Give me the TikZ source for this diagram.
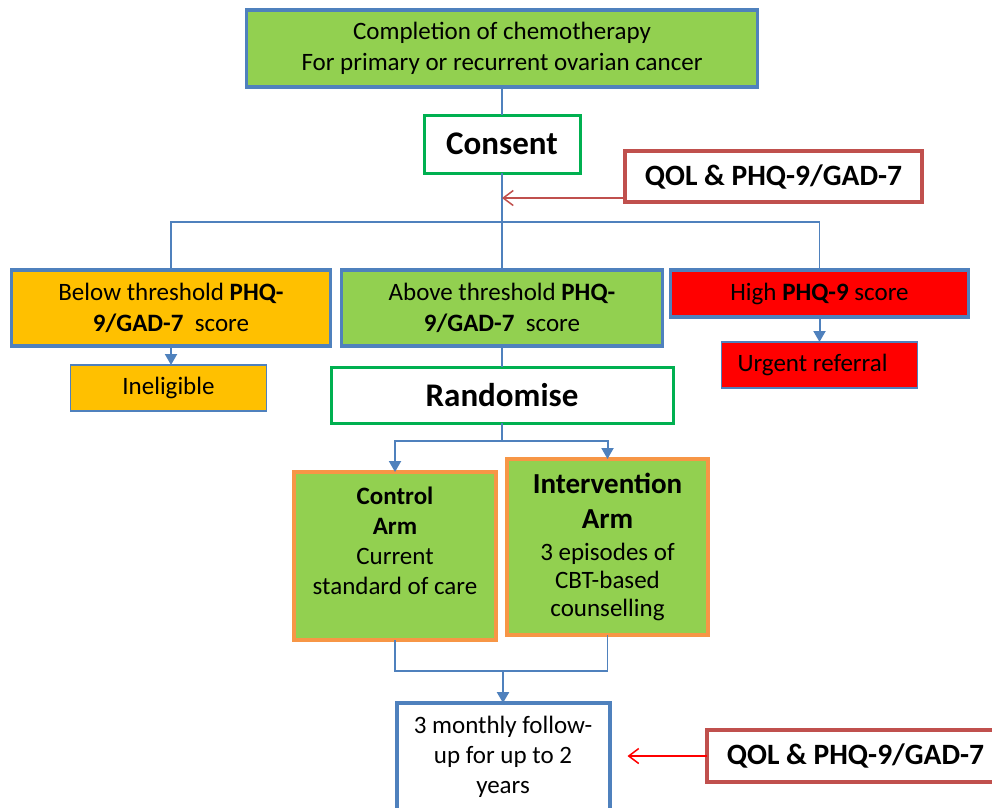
\documentclass[tikz,border=0pt]{standalone}
\usepackage{fontspec}
\setmainfont{Carlito}
\usetikzlibrary{positioning, arrows.meta}
\definecolor{lineblue}{HTML}{4F81BD}
\definecolor{leafgreen}{HTML}{92D050}
\definecolor{gategreen}{HTML}{00B050}
\definecolor{amber}{HTML}{FFC000}
\definecolor{armorange}{HTML}{F79646}
\definecolor{qolred}{HTML}{C0504D}
\tikzset{
    box/.style={draw, rectangle, align=center, outer sep=0pt, inner sep=2pt,
        font=\fontsize{25}{31}\selectfont},
    greenbox/.style={box, fill=leafgreen, draw=lineblue, line width=3.5pt},
    amberbox/.style={box, fill=amber, draw=lineblue, line width=3.5pt},
    redbox/.style={box, fill=red, draw=lineblue, line width=3.5pt},
    gatebox/.style={box, fill=white, draw=gategreen, line width=3pt,
        font=\fontsize{33}{40}\selectfont\bfseries},
    qolbox/.style={box, fill=white, draw=qolred, line width=3.5pt,
        font=\fontsize{29.5}{35}\selectfont\bfseries},
    armbox/.style={box, fill=leafgreen, draw=armorange, line width=3.5pt, inner sep=0pt},
    followbox/.style={box, fill=white, draw=lineblue, line width=4pt,
        font=\fontsize{25}{30}\selectfont},
    link/.style={draw=lineblue, line width=1.5pt},
    flow/.style={link, line width=2pt, -{Triangle[length=11pt, width=12pt]}},
    qolarrow/.style={draw=qolred, line width=1.5pt, -{Straight Barb[length=10pt, width=15pt]}},
}
\begin{document}
\begin{tikzpicture}[x=1pt, y=-1pt]
                \useasboundingbox (0,0) rectangle (992,807);
                \clip (0,0) rectangle (992,807);

                \node[greenbox, minimum width=511pt, minimum height=77pt] (top) at (502,48.5)
                    {Completion of chemotherapy\\For primary or recurrent ovarian cancer};
                \node[gatebox, minimum width=156pt, minimum height=58pt, below=28pt of top] (consent) {Consent};
                \node[qolbox, minimum width=297pt, minimum height=51pt] (qolA) at (773.5,176.5) {QOL \& PHQ-9/GAD-7};

                \node[greenbox, minimum width=321pt, minimum height=76pt, below=97pt of consent] (abovebox)
                    {Above threshold \textbf{PHQ-}\\\textbf{9/GAD-7}\ \ score};
                \node[amberbox, minimum width=319pt, minimum height=76pt, left=11pt of abovebox] (belowbox)
                    {Below threshold \textbf{PHQ-}\\\textbf{9/GAD-7}\ \ score};
                \node[redbox, minimum width=298pt, minimum height=47pt,
                      right=8pt of abovebox.north east, anchor=north west] (highbox) {High \textbf{PHQ-9} score};

                \node[redbox, line width=1.5pt, minimum width=196pt, minimum height=46pt, below=25pt of highbox] (urgent)
                    {Urgent referral\hspace*{14pt}};
                \node[amberbox, line width=1.5pt, minimum width=196pt, minimum height=46pt,
                      below=19pt of belowbox, xshift=-2.5pt] (inelig) {Ineligible};
                \node[gatebox, minimum width=342pt, minimum height=56pt, below=21pt of abovebox] (rand) {Randomise};

                \node[armbox, minimum width=202pt, minimum height=168pt, font=\fontsize{25}{30}\selectfont] (control) at (395,556)
                    {\parbox[c][168pt][t]{200pt}{\centering\rule{0pt}{32pt}\textbf{Control}\\\textbf{Arm}\\Current\\standard of care}};
                \node[armbox, minimum width=201pt, minimum height=176pt, font=\fontsize{25}{28}\selectfont] (interv) at (607.5,547)
                    {\parbox{195pt}{\centering{\fontsize{29}{35}\selectfont\bfseries Intervention\\Arm\par}
                     \vspace{4.5pt}3 episodes of\\CBT-based\\counselling}};

                \node[followbox, minimum width=213pt, minimum height=108pt] (follow) at (503,757)
                    {3 monthly follow-\\up for up to 2\\years};
                \node[qolbox, minimum width=297pt, minimum height=52pt] (qolB) at (855.5,756) {QOL \& PHQ-9/GAD-7};

                \coordinate (split) at ([yshift=48pt]abovebox.north);
                \coordinate (rsplit) at ([yshift=-18pt]rand.south);
                \coordinate (join) at ([yshift=32pt]follow.north);
                \coordinate (qolAin) at ([yshift=4pt]qolA.south west);
                \coordinate (qolBtip) at ([xshift=18pt]follow.east);

                \draw[link] (top) -- (consent);
                \draw[link] (consent) -- (abovebox);
                \draw[link] (belowbox.north) |- (split) -| (highbox.north);
                \draw[flow] (belowbox.south) -- (belowbox.south |- inelig.north);
                \draw[flow] (highbox.south) -- (highbox.south |- urgent.north);
                \draw[link] (abovebox) -- (rand);
                \draw[flow] (rand.south) -- (rsplit) -| (control.north);
                \draw[flow] (rsplit) -| (interv.north);
                \draw[link] (control.south) |- (join) -| (interv.south);
                \draw[flow, line width=2.5pt] (join) -- (follow.north);
                \draw[qolarrow] (qolAin) -- (qolAin -| consent.south);
                \draw[qolarrow, draw=red] (qolB.west) -- (qolB.west -| qolBtip);
            \end{tikzpicture}
\end{document}
